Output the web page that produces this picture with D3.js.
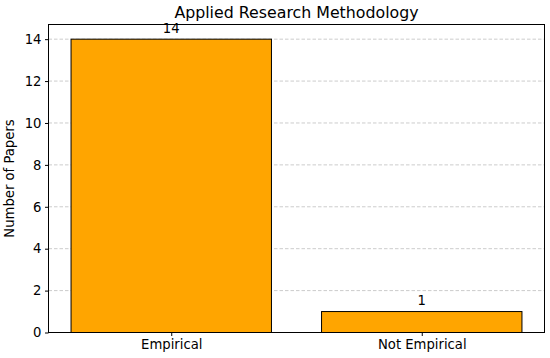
<!DOCTYPE html>
<meta charset="utf-8">
<head>
  <title>Applied Research Methodology</title>
</head>

<style>
body {
  margin: 0;
  background: #fff;
  font-family: "DejaVu Sans", sans-serif;
}

svg text {
  fill: #000;
}

.grid line {
  stroke: #cccccc;
  stroke-dasharray: 3.5,2;
}

.axis path, .axis line {
  stroke: #000;
}

.bar {
  fill: #ffa500;
  stroke: #000;
  stroke-width: 1;
}
</style>

<body>
  <svg width="550" height="358"></svg>

  <script src="https://cdnjs.cloudflare.com/ajax/libs/d3/7.8.5/d3.min.js"></script>

  <script>
var categories = ['Empirical', 'Not Empirical'];
var counts = [14, 1];
var yTicks = [0, 2, 4, 6, 8, 10, 12, 14];

var margin = {top: 24.5, right: 5.5, bottom: 25.5, left: 48.5};
var width = 550 - margin.left - margin.right;
var height = 358 - margin.top - margin.bottom;

var svg = d3.select('svg');
var g = svg.append('g')
  .attr('transform', 'translate(' + margin.left + ',' + margin.top + ')');

// matplotlib style: category positions 0..n-1, bar width 0.8, 5% margins
var x = d3.scaleLinear()
  .domain([-0.49, categories.length - 1 + 0.49])
  .range([0, width]);

var y = d3.scaleLinear()
  .domain([0, d3.max(counts) * 1.05])
  .range([height, 0]);

// Grid
g.append('g')
  .attr('class', 'grid')
  .selectAll('line')
  .data(yTicks)
  .enter()
  .append('line')
  .attr('x1', 0)
  .attr('x2', width)
  .attr('y1', function(d) { return y(d); })
  .attr('y2', function(d) { return y(d); });

// Bars
g.selectAll('.bar')
  .data(counts)
  .enter()
  .append('rect')
  .attr('class', 'bar')
  .attr('x', function(d, i) { return x(i - 0.4); })
  .attr('width', function(d, i) { return x(i + 0.4) - x(i - 0.4); })
  .attr('y', function(d) { return y(d); })
  .attr('height', function(d) { return y(0) - y(d); });

// Value labels
g.selectAll('.value')
  .data(counts)
  .enter()
  .append('text')
  .attr('class', 'value')
  .attr('x', function(d, i) { return x(i); })
  .attr('y', function(d) { return y(d) - 6.5; })
  .attr('text-anchor', 'middle')
  .style('font-size', '13.2px')
  .text(function(d) { return d; });

// Axes
g.append('g')
  .attr('class', 'axis')
  .call(d3.axisLeft(y).tickValues(yTicks).tickSize(3.5).tickPadding(3.5));

g.append('g')
  .attr('class', 'axis')
  .attr('transform', 'translate(0,' + height + ')')
  .call(d3.axisBottom(x)
    .tickValues(d3.range(categories.length))
    .tickFormat(function(i) { return categories[i]; })
    .tickSize(3.5).tickPadding(3.5));

g.selectAll('.axis .domain').remove();
g.selectAll('.axis text')
  .style('font-family', '"DejaVu Sans", sans-serif')
  .style('font-size', '13.2px')
  .attr('fill', '#000');

// Frame
g.append('rect')
  .attr('width', width)
  .attr('height', height)
  .attr('fill', 'none')
  .attr('stroke', '#000')
  .attr('stroke-width', 1);

// Title and y label
svg.append('text')
  .attr('x', margin.left + width / 2)
  .attr('y', 17.5)
  .attr('text-anchor', 'middle')
  .style('font-size', '15.8px')
  .text('Applied Research Methodology');

svg.append('text')
  .attr('transform', 'translate(13.5,' + (margin.top + height / 2) + ') rotate(-90)')
  .attr('text-anchor', 'middle')
  .style('font-size', '13.2px')
  .text('Number of Papers');
  </script>
</body>
</html>
